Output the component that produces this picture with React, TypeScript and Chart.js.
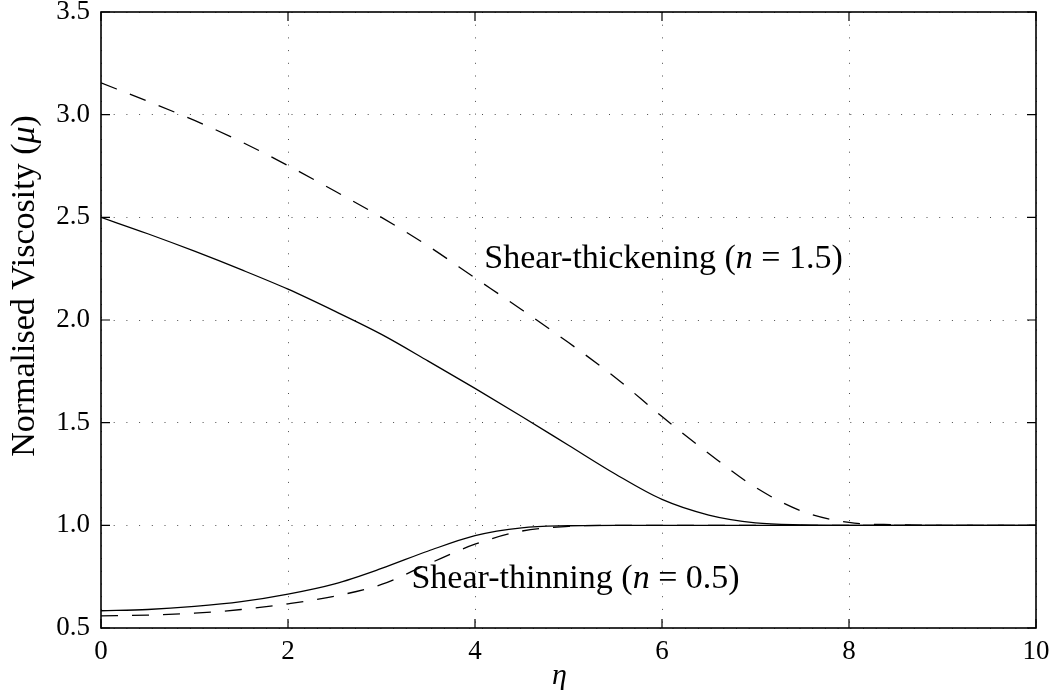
import React, { useEffect, useRef } from "react";
import { Chart, registerables } from "chart.js";

Chart.register(...registerables);

// ---- data ----
const eta = [0, 0.5, 1, 1.5, 2, 2.5, 3, 3.5, 4, 4.5, 5, 5.5, 6, 6.5, 7, 7.5, 8, 8.5, 9, 9.5, 10];
const thickeningSolid = [2.5, 2.42, 2.335, 2.245, 2.15, 2.043, 1.93, 1.8, 1.667, 1.53, 1.39, 1.25, 1.126, 1.05, 1.012, 1.002, 1.0, 1.0, 1.0, 1.0, 1.0];
const thickeningDashed = [3.155, 3.065, 2.972, 2.868, 2.752, 2.628, 2.5, 2.36, 2.205, 2.05, 1.89, 1.72, 1.53, 1.35, 1.185, 1.068, 1.014, 1.003, 1.0, 1.0, 1.0];
const thinningSolid = [0.584, 0.59, 0.605, 0.628, 0.665, 0.715, 0.79, 0.875, 0.95, 0.988, 0.998, 1.0, 1.0, 1.0, 1.0, 1.0, 1.0, 1.0, 1.0, 1.0, 1.0];
const thinningDashed = [0.559, 0.563, 0.572, 0.59, 0.618, 0.655, 0.712, 0.812, 0.908, 0.972, 0.995, 1.0, 1.0, 1.0, 1.0, 1.0, 1.0, 1.0, 1.0, 1.0, 1.0];

const xTicks = [0, 2, 4, 6, 8, 10];
const yTicks = [0.5, 1.0, 1.5, 2.0, 2.5, 3.0, 3.5];

const xTitle = "η";
const yTitleParts = [
  { t: "Normalised Viscosity (", i: false },
  { t: "μ", i: true },
  { t: ")", i: false },
];
const thickeningLabel = [
  { t: "Shear-thickening (", i: false },
  { t: "n", i: true },
  { t: " = 1.5)", i: false },
];
const thinningLabel = [
  { t: "Shear-thinning (", i: false },
  { t: "n", i: true },
  { t: " = 0.5)", i: false },
];
// annotation anchors in data units (left edge, baseline)
const thickeningAnchor = { x: 4.1, y: 2.253 };
const thinningAnchor = { x: 3.32, y: 0.694 };

const FONT = "'Liberation Serif', 'DejaVu Serif', serif";

type Part = { t: string; i: boolean };

function partsWidth(ctx: CanvasRenderingContext2D, parts: Part[], size: number) {
  let w = 0;
  for (const p of parts) {
    ctx.font = `${p.i ? "italic " : ""}${size}px ${FONT}`;
    w += ctx.measureText(p.t).width;
  }
  return w;
}

function drawParts(ctx: CanvasRenderingContext2D, parts: Part[], x: number, y: number, size: number) {
  let cx = x;
  for (const p of parts) {
    ctx.font = `${p.i ? "italic " : ""}${size}px ${FONT}`;
    ctx.fillText(p.t, cx, y);
    cx += ctx.measureText(p.t).width;
  }
}

const decorPlugin = {
  id: "decor",
  afterDatasetsDraw(chart: any) {
    const { ctx, chartArea: a, scales } = chart;
    const xs = scales.x;
    const ys = scales.y;
    ctx.save();
    // frame
    ctx.strokeStyle = "#000";
    ctx.lineWidth = 1.6;
    ctx.strokeRect(a.left, a.top, a.right - a.left, a.bottom - a.top);
    // inward tick marks on all four sides
    ctx.lineWidth = 1.2;
    ctx.beginPath();
    const tl = 9;
    for (const v of xTicks) {
      const px = xs.getPixelForValue(v);
      ctx.moveTo(px, a.bottom);
      ctx.lineTo(px, a.bottom - tl);
      ctx.moveTo(px, a.top);
      ctx.lineTo(px, a.top + tl);
    }
    for (const v of yTicks) {
      const py = ys.getPixelForValue(v);
      ctx.moveTo(a.left, py);
      ctx.lineTo(a.left + tl, py);
      ctx.moveTo(a.right, py);
      ctx.lineTo(a.right - tl, py);
    }
    ctx.stroke();

    // annotations
    ctx.fillStyle = "#000";
    ctx.textBaseline = "alphabetic";
    ctx.textAlign = "left";
    drawParts(ctx, thickeningLabel, xs.getPixelForValue(thickeningAnchor.x), ys.getPixelForValue(thickeningAnchor.y), 34);
    drawParts(ctx, thinningLabel, xs.getPixelForValue(thinningAnchor.x), ys.getPixelForValue(thinningAnchor.y), 34);

    // x title
    ctx.textAlign = "center";
    ctx.textBaseline = "middle";
    ctx.font = `italic 30px ${FONT}`;
    ctx.fillText(xTitle, (a.left + a.right) / 2 - 9, 676);

    // y title
    ctx.translate(25, (a.top + a.bottom) / 2 - 34);
    ctx.rotate(-Math.PI / 2);
    ctx.textAlign = "left";
    ctx.textBaseline = "middle";
    const w = partsWidth(ctx, yTitleParts, 34);
    drawParts(ctx, yTitleParts, -w / 2, 0, 34);
    ctx.restore();
  },
};

export default function App() {
  const ref = useRef<HTMLCanvasElement | null>(null);

  useEffect(() => {
    if (!ref.current) return;
    const mk = (vals: number[]) => eta.map((x, i) => ({ x, y: vals[i] }));
    const base = {
      borderColor: "#000",
      backgroundColor: "#000",
      borderWidth: 1.3,
      pointRadius: 0,
      fill: false,
      cubicInterpolationMode: "monotone" as const,
    };
    const gridCfg = {
      color: "rgba(0,0,0,0.7)",
      lineWidth: 1,
      drawTicks: false,
    };
    const noPad = (s: any) => {
      s.paddingTop = 0;
      s.paddingBottom = 0;
      s.paddingLeft = 0;
      s.paddingRight = 0;
    };
    const chart = new Chart(ref.current, {
      type: "line",
      data: {
        datasets: [
          { ...base, label: "Shear-thickening solid", data: mk(thickeningSolid) },
          { ...base, label: "Shear-thickening dashed", data: mk(thickeningDashed), borderDash: [17, 14] },
          { ...base, label: "Shear-thinning solid", data: mk(thinningSolid) },
          { ...base, label: "Shear-thinning dashed", data: mk(thinningDashed), borderDash: [17, 14] },
        ],
      },
      options: {
        responsive: false,
        animation: false,
        devicePixelRatio: 1,
        layout: { autoPadding: false, padding: { left: 0, right: 17, top: 12, bottom: 0 } },
        plugins: { legend: { display: false }, tooltip: { enabled: false } },
        scales: {
          x: {
            type: "linear",
            min: 0,
            max: 10,
            afterBuildTicks: (s: any) => {
              s.ticks = xTicks.map((v) => ({ value: v }));
            },
            afterFit: (s: any) => {
              s.height = 69;
              noPad(s);
            },
            ticks: {
              color: "#000",
              font: { family: FONT, size: 27 },
              padding: 8,
              maxRotation: 0,
              autoSkip: false,
              callback: (v: any) => String(v),
            },
            grid: gridCfg,
            border: { display: false, dash: [1, 11.7] },
          },
          y: {
            type: "linear",
            min: 0.5,
            max: 3.5,
            afterBuildTicks: (s: any) => {
              s.ticks = yTicks.map((v) => ({ value: v }));
            },
            afterFit: (s: any) => {
              s.width = 101;
              noPad(s);
            },
            ticks: {
              color: "#000",
              font: { family: FONT, size: 27 },
              padding: 11,
              autoSkip: false,
              callback: (v: any) => Number(v).toFixed(1),
            },
            grid: gridCfg,
            border: { display: false, dash: [1, 11.7] },
          },
        },
      },
      plugins: [decorPlugin],
    });
    return () => chart.destroy();
  }, []);

  return (
    <div style={{ position: "absolute", left: 0, top: 0, width: 1053, height: 697, background: "#fff" }}>
      <canvas ref={ref} width={1053} height={697} style={{ display: "block", width: 1053, height: 697 }} />
    </div>
  );
}
